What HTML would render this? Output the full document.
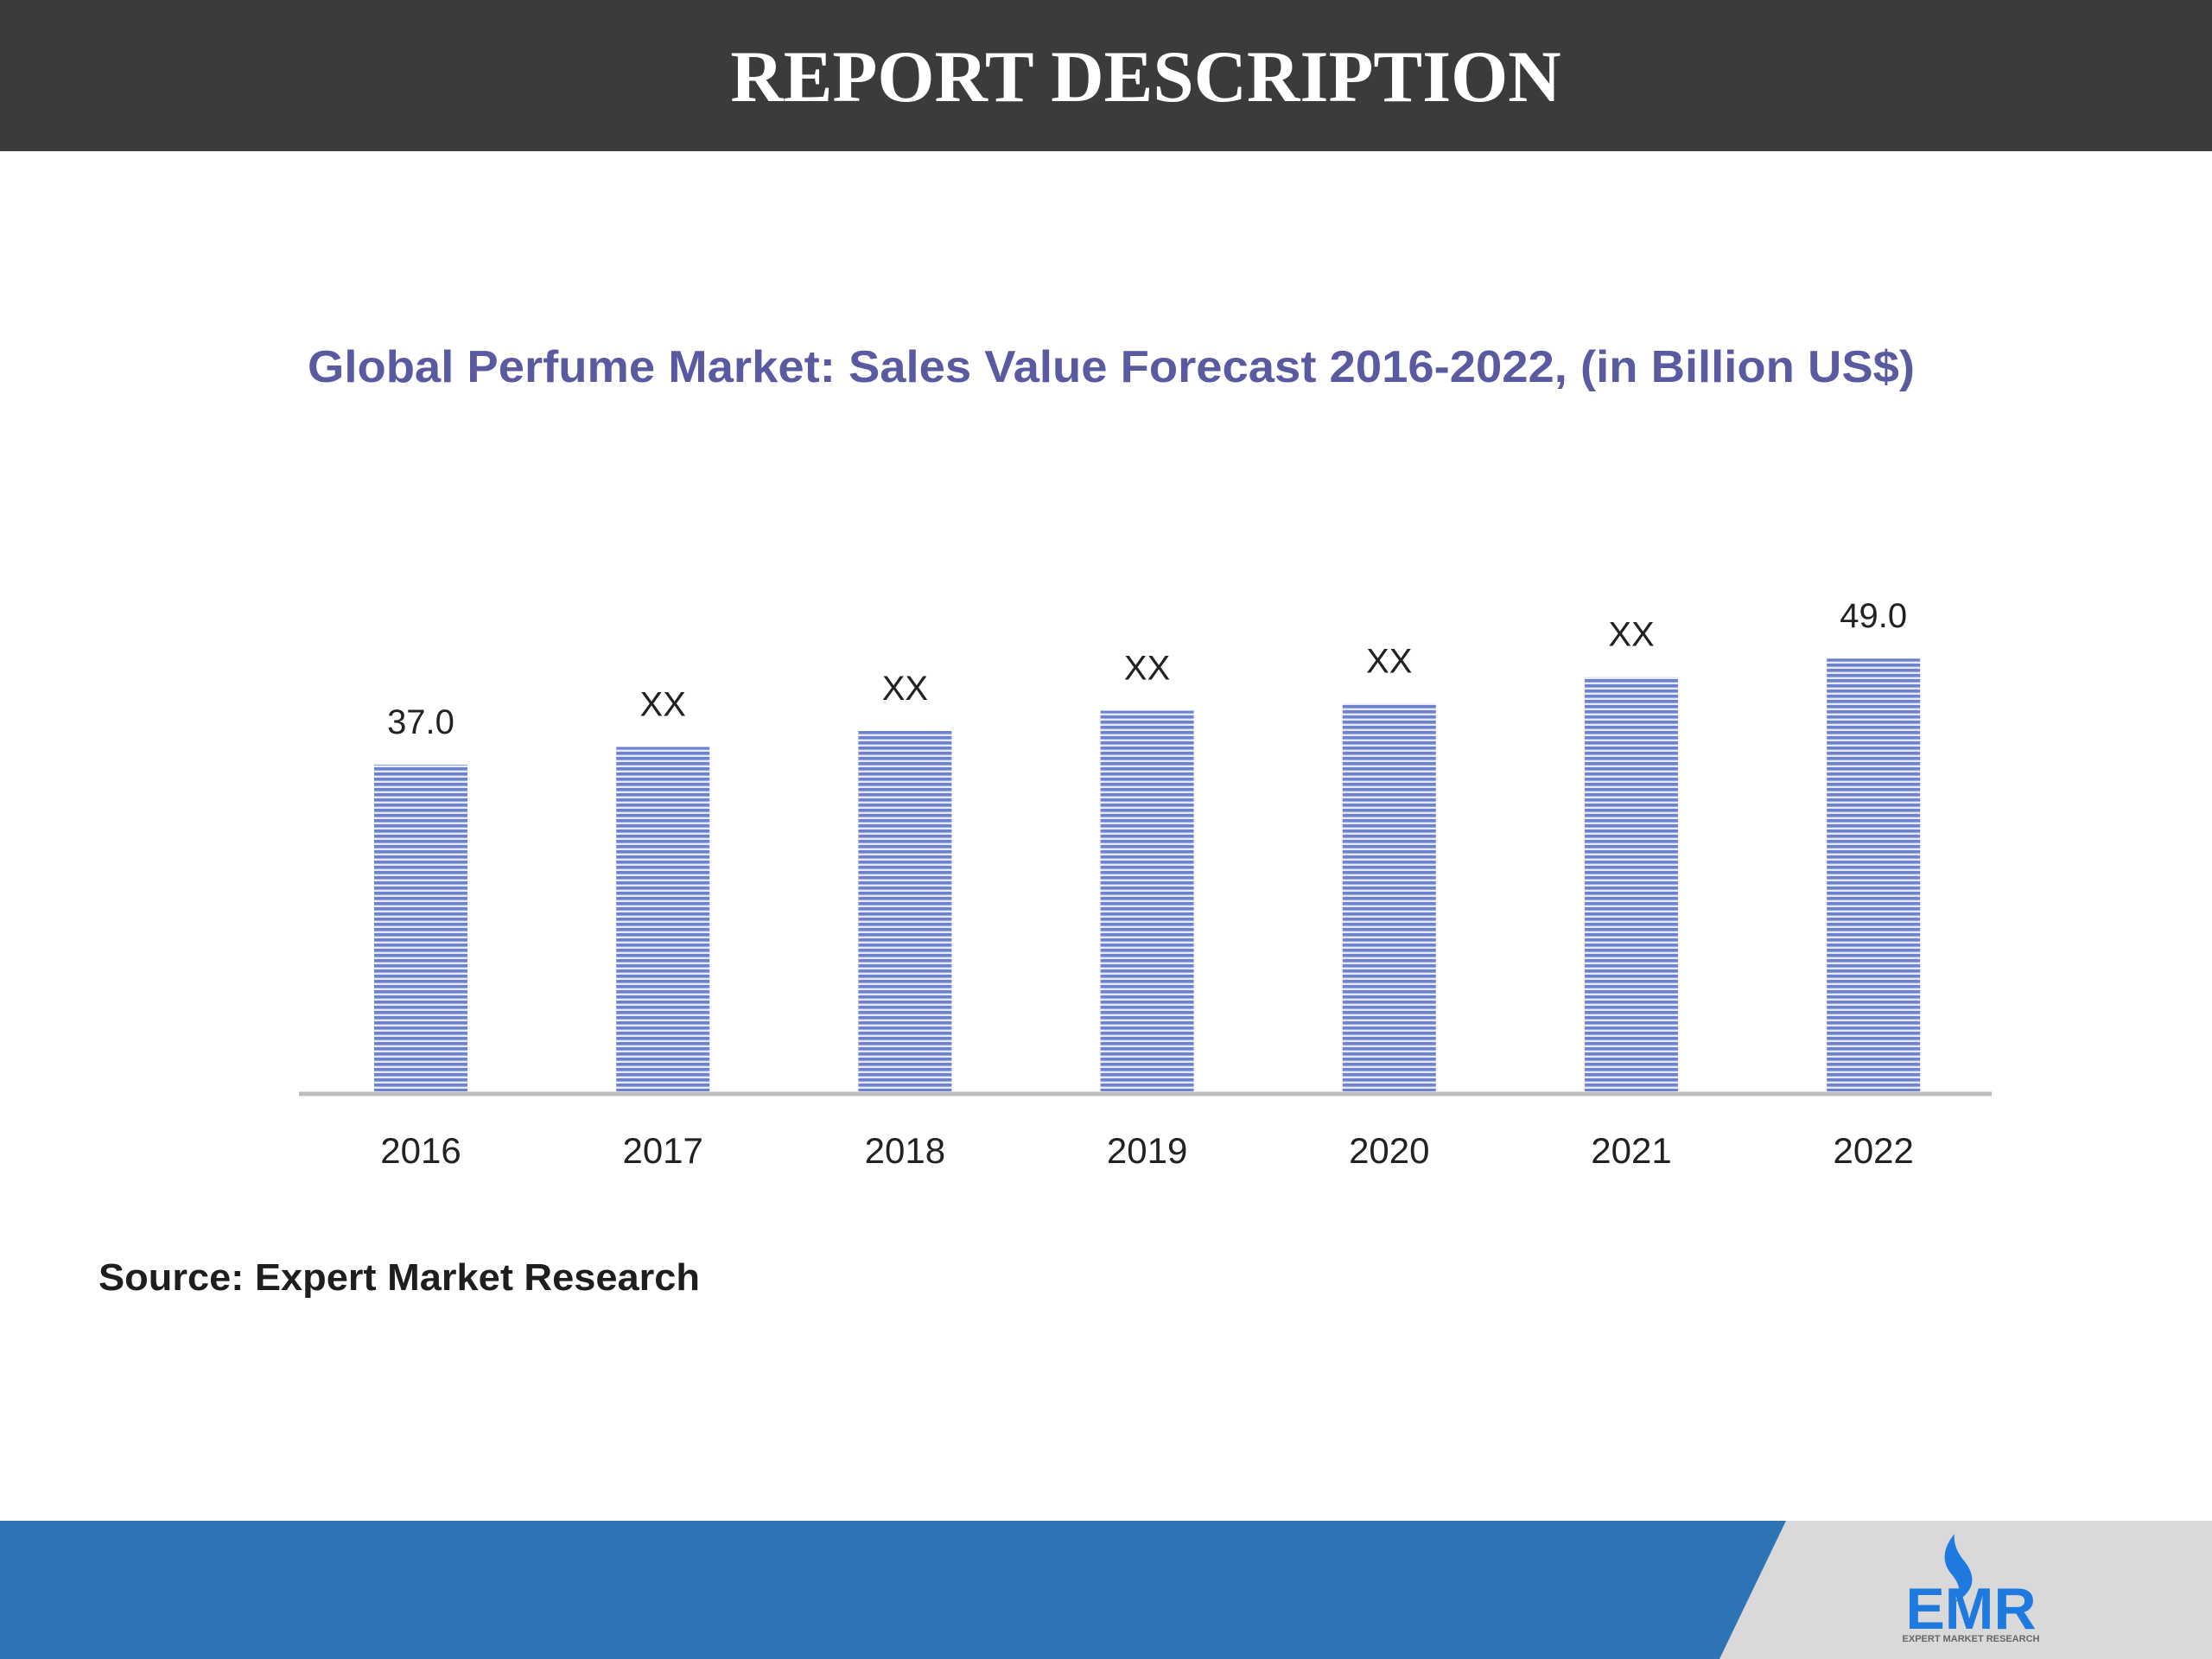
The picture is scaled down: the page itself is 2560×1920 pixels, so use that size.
<!DOCTYPE html>
<html><head><meta charset="utf-8"><style>
html,body{margin:0;padding:0;width:2560px;height:1920px;overflow:hidden;background:#fff;}
svg{display:block}
</style></head><body>
<svg width="2560" height="1920" viewBox="0 0 2560 1920" xmlns="http://www.w3.org/2000/svg">
<defs>
<pattern id="stripes" width="8" height="6" patternUnits="userSpaceOnUse">
<rect width="8" height="6" fill="#e6e9f7"/>
<rect width="8" height="3.6" fill="#6d82cf"/>
</pattern>
</defs>
<rect x="0" y="0" width="2560" height="175" fill="#3b3b3b"/>
<text x="1326" y="117" text-anchor="middle" font-family="'Liberation Serif',serif" font-weight="bold" font-size="85" fill="#fff">REPORT DESCRIPTION</text>
<text x="1286" y="442" text-anchor="middle" font-family="'Liberation Sans',sans-serif" font-weight="bold" font-size="52" fill="#5a5aa0" textLength="1860" lengthAdjust="spacingAndGlyphs">Global Perfume Market: Sales Value Forecast 2016-2022, (in Billion US$)</text>
<g id="chart"></g>
<line x1="346" y1="1266" x2="2305" y2="1266" stroke="#bdbdbd" stroke-width="5"/>
<text x="114" y="1493" font-family="'Liberation Sans',sans-serif" font-weight="bold" font-size="44" fill="#1e1e1e" textLength="696" lengthAdjust="spacingAndGlyphs">Source: Expert Market Research</text>
<rect x="0" y="1760" width="2560" height="160" fill="#d9d9d9"/>
<polygon points="0,1760 2067,1760 1990,1920 0,1920" fill="#2e74b5"/>
<g>
<path d="M2262 1775 q-20 25 -5 45 q18 20 5 35 q35 -20 10 -50 q-12 -15 -10 -30z" fill="#1f7ae0"/>
<text x="2281" y="1885" text-anchor="middle" font-family="'Liberation Sans',sans-serif" font-weight="bold" font-size="68" fill="#1f7ae0">EMR</text>
<text x="2281" y="1900" text-anchor="middle" font-family="'Liberation Sans',sans-serif" font-weight="bold" font-size="11" fill="#666">EXPERT MARKET RESEARCH</text>
</g>
</svg>
<script>
const categories = ["2016","2017","2018","2019","2020","2021","2022"];
const values = [37.0, 39.0, 40.8, 43.1, 43.9, 46.9, 49.0];
const valueLabels = ["37.0","XX","XX","XX","XX","XX","49.0"];
const NS = "http://www.w3.org/2000/svg";
const baseY = 1263, pxPerUnit = 10.22;
function yScale(v){ return baseY - v*pxPerUnit; }
function xScale(i){ return 487 + i*280.2; }
const g = document.getElementById('chart');
const barW = 108;
categories.forEach((c,i)=>{
  const x = xScale(i), top = yScale(values[i]);
  const r = document.createElementNS(NS,'rect');
  r.setAttribute('x', x-barW/2); r.setAttribute('y', top);
  r.setAttribute('width', barW); r.setAttribute('height', baseY-top);
  r.setAttribute('fill','url(#stripes)');
  
  
  g.appendChild(r);
  const t = document.createElementNS(NS,'text');
  t.setAttribute('x', x); t.setAttribute('y', top-36);
  t.setAttribute('text-anchor','middle');
  t.setAttribute('font-family',"'Liberation Sans',sans-serif");
  t.setAttribute('font-size','40'); t.setAttribute('fill','#222');
  t.textContent = valueLabels[i];
  
  
  g.appendChild(t);
  const xl = document.createElementNS(NS,'text');
  xl.setAttribute('x', x); xl.setAttribute('y', 1346);
  xl.setAttribute('text-anchor','middle');
  xl.setAttribute('font-family',"'Liberation Sans',sans-serif");
  xl.setAttribute('font-size','42'); xl.setAttribute('fill','#222');
  xl.textContent = c;
  
  
  g.appendChild(xl);
});
</script>
</body></html>
